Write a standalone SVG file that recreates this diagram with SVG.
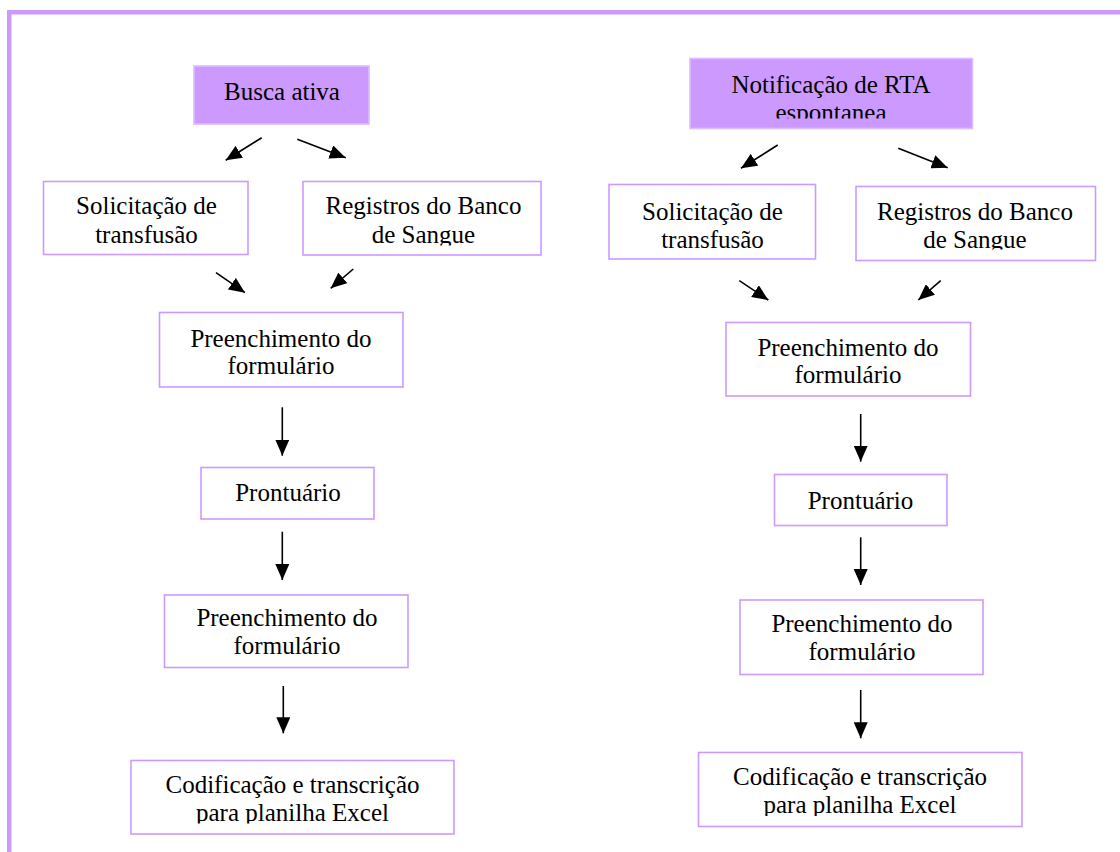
<svg xmlns="http://www.w3.org/2000/svg" width="1120" height="852" viewBox="0 0 1120 852">
<style>
.box{fill:#fff;stroke:#CC99FF;stroke-width:1.6}
.fbox{fill:#CC99FF;stroke:#DDBBFF;stroke-width:1.6}
.t{font-family:"Liberation Serif","Times New Roman",serif;font-size:25px;fill:#000;text-anchor:middle}
.a{stroke:#000;stroke-width:1.6;fill:none;marker-end:url(#ah)}
</style>
<defs>
<marker id="ah" viewBox="0 0 16 14" refX="16" refY="7" markerWidth="16" markerHeight="14" markerUnits="userSpaceOnUse" orient="auto">
<path d="M0,0 L16,7 L0,14 z" fill="#000"/>
</marker>
<clipPath id="cRegL"><rect x="0" y="0" width="1120" height="245.5"/></clipPath>
<clipPath id="cNot"><rect x="0" y="0" width="1120" height="118.5"/></clipPath>
<clipPath id="cRegR"><rect x="0" y="0" width="1120" height="249.5"/></clipPath>
<clipPath id="cCodL"><rect x="0" y="0" width="1120" height="823.5"/></clipPath>
<clipPath id="cCodR"><rect x="0" y="0" width="1120" height="816"/></clipPath>
</defs>
<rect width="1120" height="852" fill="#fff"/>
<rect id="frame" x="9.25" y="12.25" width="1200" height="900" fill="none" stroke="#CC99FF" stroke-width="4.5"/>

<g id="n-busca"><rect class="fbox" x="194" y="66" width="175" height="58"/><text class="t" x="282" y="100">Busca ativa</text></g>
<g id="n-solic-l"><rect class="box" x="43.5" y="181.5" width="204.5" height="73"/><text class="t" x="146.5" y="214">Solicitação de</text><text class="t" x="146.5" y="242.5">transfusão</text></g>
<g id="n-reg-l"><rect class="box" x="303" y="181.5" width="238" height="73.5"/><g clip-path="url(#cRegL)"><text class="t" x="423.5" y="214">Registros do Banco</text><text class="t" x="423.5" y="242.5">de Sangue</text></g></g>
<g id="n-pre1-l"><rect class="box" x="159.5" y="312.5" width="243.5" height="74.5"/><text class="t" x="281" y="346.5">Preenchimento do</text><text class="t" x="281" y="374">formulário</text></g>
<g id="n-pront-l"><rect class="box" x="201" y="467.5" width="173" height="51.5"/><text class="t" x="288" y="501">Prontuário</text></g>
<g id="n-pre2-l"><rect class="box" x="164.5" y="595" width="243.5" height="72.5"/><text class="t" x="287" y="626">Preenchimento do</text><text class="t" x="287" y="653.5">formulário</text></g>
<g id="n-cod-l"><rect class="box" x="131" y="760.5" width="323" height="73.5"/><g clip-path="url(#cCodL)"><text class="t" x="292.5" y="792.5">Codificação e transcrição</text><text class="t" x="292.5" y="821">para planilha Excel</text></g></g>

<g id="n-notif"><rect class="fbox" x="690" y="58.5" width="282.5" height="70"/><g clip-path="url(#cNot)"><text class="t" x="831" y="92.5">Notificação de RTA</text><text class="t" x="831" y="120.5">espontanea</text></g></g>
<g id="n-solic-r"><rect class="box" x="609" y="184.5" width="206.5" height="74.5"/><text class="t" x="712.5" y="219.5">Solicitação de</text><text class="t" x="712.5" y="247.5">transfusão</text></g>
<g id="n-reg-r"><rect class="box" x="856" y="186.5" width="239.5" height="74"/><g clip-path="url(#cRegR)"><text class="t" x="975" y="220">Registros do Banco</text><text class="t" x="975" y="248">de Sangue</text></g></g>
<g id="n-pre1-r"><rect class="box" x="726" y="322.5" width="244.5" height="73.5"/><text class="t" x="848" y="355.5">Preenchimento do</text><text class="t" x="848" y="382.5">formulário</text></g>
<g id="n-pront-r"><rect class="box" x="774.5" y="474.5" width="172.5" height="51"/><text class="t" x="860.5" y="508.5">Prontuário</text></g>
<g id="n-pre2-r"><rect class="box" x="740" y="600" width="243" height="74.5"/><text class="t" x="862" y="631.5">Preenchimento do</text><text class="t" x="862" y="660">formulário</text></g>
<g id="n-cod-r"><rect class="box" x="698.5" y="752.5" width="323.5" height="74"/><g clip-path="url(#cCodR)"><text class="t" x="860" y="784.5">Codificação e transcrição</text><text class="t" x="860" y="812.5">para planilha Excel</text></g></g>

<g id="connectors">
<line class="a" x1="261.7" y1="137.7" x2="225.7" y2="160.3"/>
<line class="a" x1="297.3" y1="139.3" x2="345.7" y2="157.7"/>
<line class="a" x1="216" y1="272.7" x2="245" y2="292.7"/>
<line class="a" x1="353.3" y1="269" x2="330.7" y2="288.3"/>
<line class="a" x1="282.3" y1="407.3" x2="282.3" y2="455.7"/>
<line class="a" x1="282.3" y1="531.7" x2="282.3" y2="580"/>
<line class="a" x1="283.3" y1="686" x2="283.3" y2="733.3"/>
<line class="a" x1="777.7" y1="145" x2="741" y2="168.3"/>
<line class="a" x1="898.3" y1="148.3" x2="947.7" y2="167.7"/>
<line class="a" x1="739.3" y1="280.7" x2="768.3" y2="300"/>
<line class="a" x1="940.7" y1="280.7" x2="918.3" y2="300"/>
<line class="a" x1="860.7" y1="414" x2="860.7" y2="461.7"/>
<line class="a" x1="860.7" y1="537.3" x2="860.7" y2="585"/>
<line class="a" x1="860.7" y1="690" x2="860.7" y2="738.3"/>
</g>
</svg>
